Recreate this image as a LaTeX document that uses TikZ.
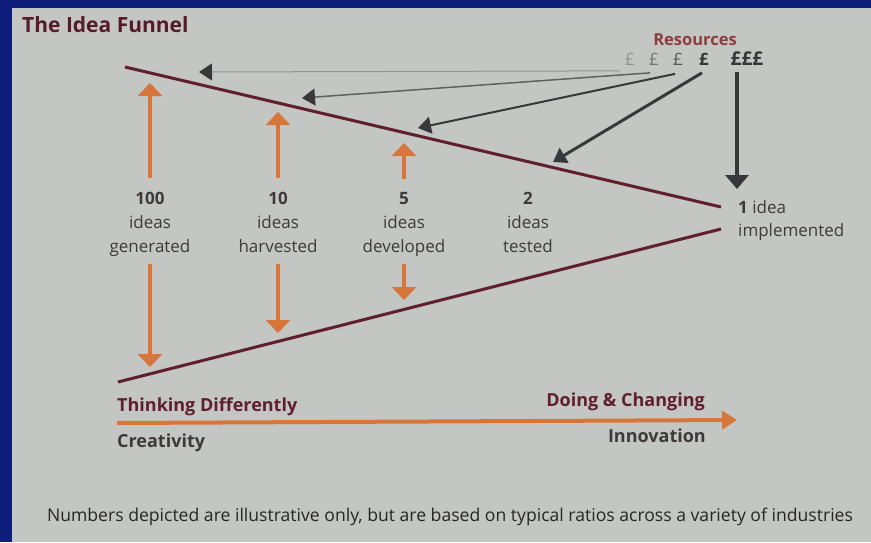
\documentclass[tikz,border=0pt]{standalone}
\usepackage{fontspec}
\setmainfont{Open Sans}
\usetikzlibrary{arrows.meta}

\definecolor{frameblue}{RGB}{14,30,122}
\definecolor{paper}{RGB}{196,198,195}
\definecolor{funnelred}{RGB}{96,30,46}
\definecolor{ideaorange}{RGB}{214,118,58}
\definecolor{cashgrey}{RGB}{56,56,58}
\definecolor{inkgrey}{RGB}{62,58,60}
\definecolor{resbrown}{RGB}{140,62,62}

\begin{document}
\begin{tikzpicture}[x=1pt, y=-1pt, every node/.style={inner sep=0pt, text=inkgrey, font=\fontsize{17}{24}\selectfont}, funnel/.style={draw=funnelred, line width=3pt}, idea/.style={draw=ideaorange, line width=4.5pt, -{Triangle[width=24pt,length=13pt]}}, cash/.style={draw=cashgrey, -{Triangle[width=17pt,length=13pt,color=cashgrey]}}, axis/.style={draw=ideaorange, line width=4pt, -{Triangle[width=18pt,length=15pt]}}, stagenum/.style={anchor=base, font=\fontsize{17}{24}\selectfont\bfseries}, stagetxt/.style={anchor=base, align=center}, pound/.style={anchor=base, font=\fontsize{17}{24}\selectfont}, phase/.style={text=funnelred, font=\fontsize{18}{24}\selectfont\bfseries}, field/.style={font=\fontsize{18}{24}\selectfont\bfseries}]
  \fill[frameblue] (0,0) rectangle (871,542);
  \fill[paper] (12,8) rectangle (871,542);

  \node[anchor=base west, text=funnelred!90!black, font=\fontsize{21}{24}\selectfont\bfseries] (title) at (22,32) {The Idea Funnel};

  \coordinate (ftl) at (125,67);
  \coordinate (ftr) at (721,207);
  \coordinate (fbl) at (118,382);
  \coordinate (fbr) at (721,229);
  \draw[funnel] (ftl) -- (ftr);
  \draw[funnel] (fbl) -- (fbr);

  \node[anchor=base west] (one) at (738,213) {\textbf{1} idea};
  \node[anchor=base west] (impl) at (738,236) {implemented};

  \node[anchor=base, text=resbrown, font=\fontsize{16.5}{24}\selectfont\bfseries] (res) at (695,45) {Resources};
  \node[pound, text=cashgrey!55] (p1) at (630,65) {£};
  \node[pound, text=cashgrey!70] (p2) at (654,65) {£};
  \node[pound, text=cashgrey!85] (p3) at (678,65) {£};
  \node[pound, text=cashgrey, font=\fontsize{17}{24}\selectfont\bfseries] (p4) at (704,65) {£};
  \node[pound, text=cashgrey, font=\fontsize{19}{24}\selectfont\bfseries] (p5) at (747,65) {£££};

  \coordinate (r1) at (199,72);
  \coordinate (r2) at (302,98);
  \coordinate (r3) at (418,128);
  \coordinate (r4) at (553,162);
  \coordinate (r5) at (737,189);
  \draw[cash, line width=1pt, draw=cashgrey!55] ([shift={(-10,12)}]p1.center) -- (r1);
  \draw[cash, line width=1.5pt, draw=cashgrey!80] ([shift={(-4,14)}]p2.center) -- (r2);
  \draw[cash, line width=2pt] ([shift={(-3,15)}]p3.center) -- (r3);
  \draw[cash, line width=3pt] ([shift={(-2,14)}]p4.center) -- (r4);
  \draw[cash, line width=4.5pt, -{Triangle[width=23pt,length=14pt]}] ([shift={(-10,14)}]p5.center) -- (r5);

  \node[stagenum] (n100) at (150,204) {100};
  \node[stagetxt] (t100) at (150,252) {ideas\\generated\strut};
  \node[stagenum] (n10) at (278,204) {10};
  \node[stagetxt] (t10) at (278,252) {ideas\\harvested\strut};
  \node[stagenum] (n5) at (404,204) {5};
  \node[stagetxt] (t5) at (404,252) {ideas\\developed\strut};
  \node[stagenum] (n2) at (528,204) {2};
  \node[stagetxt] (t2) at (528,252) {ideas\\tested\strut};

  \coordinate (u100) at (150,83);
  \coordinate (u10) at (278,112);
  \coordinate (u5) at (404,143);
  \coordinate (d100) at (150,367);
  \coordinate (d10) at (278,333);
  \coordinate (d5) at (404,300);
  \draw[idea] ([yshift=13pt]n100.north) -- (u100);
  \draw[idea] ([yshift=13pt]n10.north) -- (u10);
  \draw[idea] ([yshift=13pt]n5.north) -- (u5);
  \draw[idea] ([yshift=-5pt]t100.south) -- (d100);
  \draw[idea] ([yshift=-5pt]t10.south) -- (d10);
  \draw[idea] ([yshift=-5pt]t5.south) -- (d5);

  \coordinate (axl) at (117,423);
  \coordinate (axr) at (737,420);
  \draw[axis] (axl) -- (axr);
  \node[phase, anchor=base west] (think) at (117,411) {Thinking Differently};
  \node[phase, anchor=base east] (doing) at (705,406) {Doing \& Changing};
  \node[field, anchor=base west] (creat) at (117,447) {Creativity};
  \node[field, anchor=base east] (innov) at (706,442) {Innovation};

  \node[anchor=base, text=black!85, font=\fontsize{17.6}{24}\selectfont] (note) at (450,521) {Numbers depicted are illustrative only, but are based on typical ratios across a variety of industries};
\end{tikzpicture}
\end{document}
